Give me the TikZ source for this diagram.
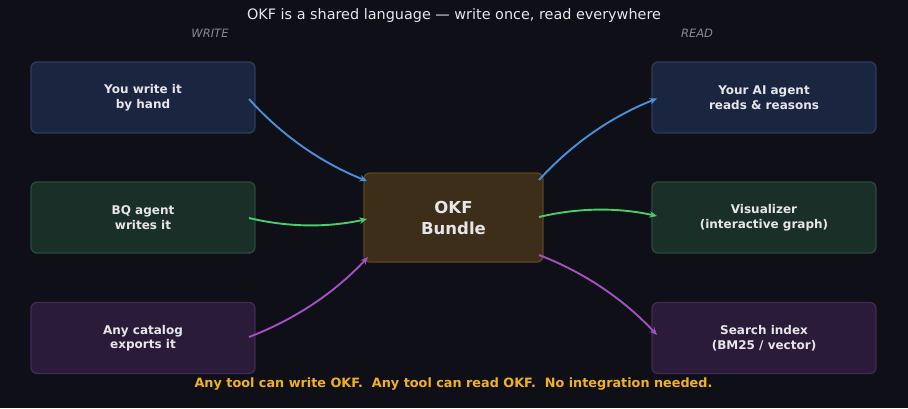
\documentclass[tikz,border=0pt]{standalone}
\usepackage{fontspec}
\setmainfont{DejaVu Sans}
\usetikzlibrary{arrows.meta}
\definecolor{bg}{HTML}{0F0F17}
\definecolor{bluefill}{HTML}{1A2540}
\definecolor{blueedge}{HTML}{2B3C5E}
\definecolor{greenfill}{HTML}{1B2F29}
\definecolor{greenedge}{HTML}{2A4A3A}
\definecolor{purplefill}{HTML}{2A1B38}
\definecolor{purpleedge}{HTML}{402A58}
\definecolor{corefill}{HTML}{3C2E19}
\definecolor{coreedge}{HTML}{5C4620}
\definecolor{ablue}{HTML}{4A90D9}
\definecolor{agreen}{HTML}{4CCB6C}
\definecolor{apurple}{HTML}{A550C2}
\definecolor{ayellow}{HTML}{F0B020}
\definecolor{labelgray}{HTML}{8A8A94}
\definecolor{boxtext}{HTML}{E6E6EA}
\tikzset{
  card/.style={draw, rounded corners=6pt, line width=1.3pt, minimum width=224pt, minimum height=71pt,
    align=center, font=\fontsize{12}{14.5}\selectfont\bfseries, text=boxtext},
  bluecard/.style={card, fill=bluefill, draw=blueedge},
  greencard/.style={card, fill=greenfill, draw=greenedge},
  purplecard/.style={card, fill=purplefill, draw=purpleedge},
  flow/.style={line width=1.9pt, -{Stealth[length=7.5pt,width=6.5pt]}},
}
\begin{document}
\begin{tikzpicture}[x=1pt,y=-1pt]
\fill[bg] (0,0) rectangle (908,408);
\useasboundingbox (0,0) rectangle (908,408);
\node[text=boxtext, font=\fontsize{14.4}{16}\selectfont] (title) at (454,16) {OKF is a shared language — write once, read everywhere};
\node[text=labelgray, font=\fontsize{11.5}{13}\selectfont\itshape] (wlab) at (210,33) {WRITE};
\node[text=labelgray, font=\fontsize{11.5}{13}\selectfont\itshape] (rlab) at (697,33) {READ};

\node[bluecard] (w1) at (143,97.5) {You write it\\by hand};
\node[greencard] (w2) at (143,217.5) {BQ agent\\writes it};
\node[purplecard] (w3) at (143,338) {Any catalog\\exports it};
\node[bluecard] (r1) at (764,97.5) {Your AI agent\\reads \& reasons};
\node[greencard] (r2) at (764,217.5) {Visualizer\\(interactive graph)};
\node[purplecard] (r3) at (764,338) {Search index\\(BM25 / vector)};
\node[draw=coreedge, fill=corefill, rounded corners=6pt, line width=1.3pt, minimum width=179pt, minimum height=89pt,
  align=center, font=\fontsize{16.5}{21}\selectfont\bfseries, text=boxtext] (core) at (453.5,217.5) {OKF\\Bundle};

\coordinate (w1o) at (249,99);
\coordinate (w2o) at (249,218);
\coordinate (w3o) at (249,337);
\coordinate (ci1) at (367,181);
\coordinate (ci2) at (367,219);
\coordinate (ci3) at (368,257);
\coordinate (co1) at (539,180);
\coordinate (co2) at (539,217);
\coordinate (co3) at (539,255);
\coordinate (r1i) at (657,98.5);
\coordinate (r2i) at (657,216);
\coordinate (r3i) at (657,335);

\draw[flow, ablue] (w1o) .. controls (281.7,135.3) and (321,162.7) .. (ci1);
\draw[flow, agreen] (w2o) .. controls (288,227.3) and (327.3,227.7) .. (ci2);
\draw[flow, apurple] (w3o) .. controls (294.8,319.5) and (334.5,292.8) .. (ci3);
\draw[flow, ablue] (co1) .. controls (571.7,144) and (611,116.8) .. (r1i);
\draw[flow, agreen] (co2) .. controls (578,207.7) and (617.3,207.3) .. (r2i);
\draw[flow, apurple] (co3) .. controls (584.1,272.3) and (623.4,299) .. (r3i);

\node[text=ayellow, font=\fontsize{12.8}{14}\selectfont\bfseries] (foot) at (453.5,384) {Any tool can write OKF.\ \ Any tool can read OKF.\ \ No integration needed.};
\end{tikzpicture}
\end{document}
